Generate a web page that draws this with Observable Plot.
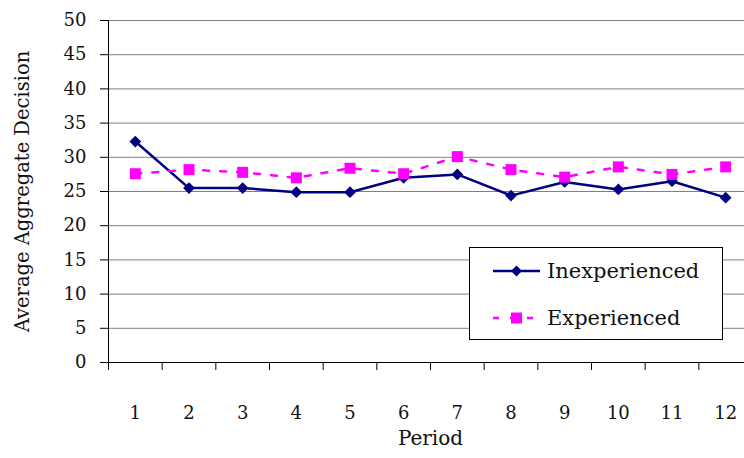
<!DOCTYPE html>
<html>
<head>
<meta charset="utf-8">
<script src="https://cdn.jsdelivr.net/npm/d3@7"></script>
<script src="https://cdn.jsdelivr.net/npm/@observablehq/plot@0.6"></script>
<style>
  html, body { margin: 0; padding: 0; background: #fff; }
  #wrap { position: relative; width: 744px; height: 458px; overflow: hidden; }
  #legend {
    position: absolute; left: 469px; top: 247px; width: 252px; height: 91px;
    border: 1px solid #000; background: #fff;
    font-family: "DejaVu Serif", serif; font-size: 21px; color: #111;
  }
  .row { position: absolute; left: 0; height: 30px; display: flex; align-items: center; }
  .row svg { margin-left: 23px; margin-right: 7px; }
</style>
</head>
<body>
<div id="wrap"></div>
<script>
const periods = ["1","2","3","4","5","6","7","8","9","10","11","12"];
const inexperienced = [32.3, 25.5, 25.5, 24.9, 24.9, 27.0, 27.5, 24.4, 26.4, 25.3, 26.5, 24.1];
const experienced   = [27.6, 28.2, 27.8, 27.0, 28.4, 27.6, 30.1, 28.2, 27.1, 28.6, 27.5, 28.6];
const yTicks = [0, 5, 10, 15, 20, 25, 30, 35, 40, 45, 50];
const seriesNames = ["Inexperienced", "Experienced"];
const navy = "#000080", magenta = "#FF00FF";

const boundaries = d3.range(periods.length + 1);           // category edges
const centers = periods.map((p, i) => i + 0.5);            // category centers
const font = "DejaVu Serif, serif";

const chart = Plot.plot({
  width: 744,
  height: 458,
  marginLeft: 108,
  marginRight: 0,
  marginTop: 20,
  marginBottom: 96,
  style: { fontFamily: font, background: "#fff", color: "#111" },
  x: { type: "linear", domain: [0, periods.length], range: [108, 752] },
  y: { domain: [0, 50] },
  marks: [
    Plot.ruleY(yTicks.filter(d => d > 0), { stroke: "#808080", strokeWidth: 1 }),
    Plot.axisY({ ticks: yTicks, tickSize: 8, tickPadding: 14, fontSize: 18, label: null, stroke: "#000", strokeOpacity: 1 }),
    Plot.axisX({ ticks: boundaries, tickSize: 8, tickFormat: () => "", label: null, stroke: "#000", strokeOpacity: 1 }),
    Plot.axisX({ ticks: centers, tickSize: 0, tickPadding: 44, fontSize: 18, label: null,
                 tickFormat: d => periods[Math.round(d - 0.5)] }),
    Plot.ruleY([0], { stroke: "#000", strokeWidth: 1 }),
    Plot.ruleX([0], { stroke: "#000", strokeWidth: 1 }),
    Plot.text(["Average Aggregate Decision"], { frameAnchor: "left", textAnchor: "middle", rotate: -90, dx: -86, fontSize: 19.5, fill: "#111" }),
    Plot.text(["Period"], { frameAnchor: "bottom", dy: 82, dx: 4, fontSize: 20, fill: "#111" }),
    Plot.line(inexperienced, { x: (d, i) => i + 0.5, y: d => d, stroke: navy, strokeWidth: 2.5 }),
    Plot.dot(inexperienced, { x: (d, i) => i + 0.5, y: d => d, symbol: "diamond2", r: 5.3, fill: navy, stroke: "none" }),
    Plot.line(experienced, { x: (d, i) => i + 0.5, y: d => d, stroke: magenta, strokeWidth: 2.5, strokeDasharray: "6,11" }),
    Plot.dot(experienced, { x: (d, i) => i + 0.5, y: d => d, symbol: "square", r: 6.2, fill: magenta, stroke: "none" })
  ]
});

const wrap = document.getElementById("wrap");
wrap.appendChild(chart);

const legend = document.createElement("div");
legend.id = "legend";
legend.innerHTML = `
  <div class="row" style="top:8px">
    <svg width="47" height="14"><line x1="0" y1="7" x2="47" y2="7" stroke="${navy}" stroke-width="2.5"/>
      <path d="M23.5 1.5 L29 7 L23.5 12.5 L18 7 Z" fill="${navy}"/></svg>
    <span>${seriesNames[0]}</span>
  </div>
  <div class="row" style="top:55px">
    <svg width="47" height="14"><line x1="0" y1="7" x2="47" y2="7" stroke="${magenta}" stroke-width="2.5" stroke-dasharray="6,11"/>
      <rect x="18" y="1.5" width="11" height="11" fill="${magenta}"/></svg>
    <span>${seriesNames[1]}</span>
  </div>`;
wrap.appendChild(legend);
</script>
</body>
</html>
